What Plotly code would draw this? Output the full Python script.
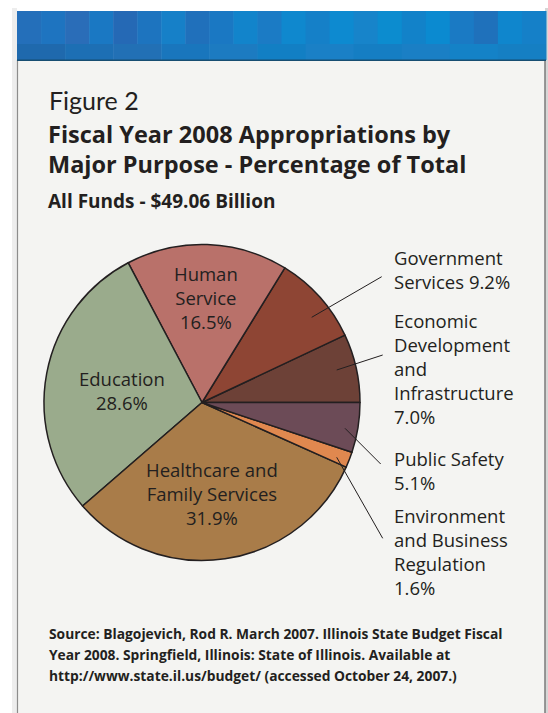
import plotly.graph_objects as go

# ---- data ----
categories = ["Economic Development and Infrastructure", "Government Services", "Human Service",
              "Education", "Healthcare and Family Services",
              "Environment and Business Regulation", "Public Safety"]
values = [7.0, 9.2, 16.5, 28.6, 31.9, 1.6, 5.1]
label_lines = ["Economic<br>Development<br>and<br>Infrastructure", "Government<br>Services", "Human<br>Service",
               "Education", "Healthcare and<br>Family Services",
               "Environment<br>and Business<br>Regulation", "Public Safety"]
value_sep = ["<br>", " ", "<br>", "<br>", "<br>", "<br>", "<br>"]
colors = ["#6d4137", "#8e4534", "#b9716a", "#9aab8c", "#a97c49", "#e0884f", "#6c4b57"]

title_lines = ["Fiscal Year 2008 Appropriations by", "Major Purpose - Percentage of Total"]
subtitle = "All Funds - $49.06 Billion"
source_lines = ["Source: Blagojevich, Rod R. March 2007. Illinois State Budget Fiscal",
                "Year 2008. Springfield, Illinois: State of Illinois. Available at",
                "http://www.state.il.us/budget/ (accessed October 24, 2007.)"]

W, H = 548, 713
TXT = "#231f20"
cx, cy, r = 202, 402.5, 158

# first slice starts at 3 o'clock and runs counterclockwise
first_angle = values[0] / sum(values) * 360

fig = go.Figure()
fig.add_trace(go.Pie(
    labels=categories, values=values, sort=False, direction="counterclockwise",
    rotation=90 - first_angle, textinfo="none", hoverinfo="label+percent",
    marker=dict(colors=colors, line=dict(color=TXT, width=1.5)),
    domain=dict(x=[(cx - r) / W, (cx + r) / W], y=[1 - (cy + r) / H, 1 - (cy - r) / H]),
    showlegend=False,
))

shapes = []
# page shadows / borders
shapes.append(dict(type="rect", x0=12, x1=17, y0=8, y1=H, fillcolor="#ededed", line_width=0, layer="below"))
shapes.append(dict(type="rect", x0=17, x1=546, y0=60, y1=H, fillcolor="#f4f4f2", line_width=0, layer="below"))
shapes.append(dict(type="line", x0=17.5, x1=17.5, y0=60, y1=H, line=dict(color="#8c8c8c", width=1.2), layer="below"))
shapes.append(dict(type="rect", x0=545, x1=548, y0=8, y1=H, fillcolor="#d6d6d6", line_width=0, layer="below"))
shapes.append(dict(type="line", x0=545, x1=545, y0=60, y1=H, line=dict(color="#7a7a7a", width=1.5), layer="below"))
# blue header band with streaky texture
band_cols = ["#246fba", "#1e74c0", "#2a6db8", "#1a78c3", "#2569b5", "#1d74bf", "#1680c8", "#2070bb",
             "#1a78c3", "#1284cb", "#1b7bc5", "#0f88ce", "#1580c8", "#0d8ad0", "#1784ca", "#0c8ccf",
             "#1282c9", "#0b8ad0", "#1a7ac4", "#1f71bb", "#0f86cd", "#1580c8"]
n = len(band_cols)
bw = (546 - 17) / n
for i, c in enumerate(band_cols):
    shapes.append(dict(type="rect", x0=17 + i * bw, x1=17 + (i + 1) * bw + 0.5, y0=11, y1=44,
                       fillcolor=c, line_width=0, layer="below"))
low_cols = ["#1f69ad", "#1d6fb4", "#2270b5", "#1976bd", "#1c7bc1", "#127fc4", "#1a80c6",
            "#157ec3", "#1a7fc5", "#1482c7", "#157fc3"]
bw2 = (546 - 17) / len(low_cols)
for i, c in enumerate(low_cols):
    shapes.append(dict(type="rect", x0=17 + i * bw2, x1=17 + (i + 1) * bw2 + 0.5, y0=44, y1=60,
                       fillcolor=c, line_width=0, layer="below"))
shapes.append(dict(type="line", x0=17, x1=546, y0=60.3, y1=60.3, line=dict(color="#174e72", width=1.5), layer="below"))

# leader lines
leaders = [((311.7, 317.3), (381.7, 276.7)),
           ((336.7, 370.0), (382.7, 355.0)),
           ((345.0, 428.3), (380.7, 464.0)),
           ((336.7, 457.3), (382.7, 538.3))]
for (a, b) in leaders:
    shapes.append(dict(type="line", x0=a[0], y0=a[1], x1=b[0], y1=b[1], line=dict(color=TXT, width=1)))

anns = []
FONT_R = "Open Sans"

def txt(x, y, text, size, family=FONT_R, align="left", xanchor="left", bold=False):
    anns.append(dict(x=x, y=y, xref="x", yref="y", text=f"<b>{text}</b>" if bold else text,
                     showarrow=False, xanchor=xanchor, yanchor="middle", align=align,
                     font=dict(family=family, size=size, color=TXT)))

def lab(i):
    return label_lines[i] + value_sep[i] + f"{values[i]:.1f}%"

# inside labels
txt(206, 297.5, lab(2), 18.5, align="center", xanchor="center")
txt(121.5, 390.5, lab(3), 18.5, align="center", xanchor="center")
txt(212, 493, lab(4), 18.5, align="center", xanchor="center")
# outside labels
txt(392, 269, lab(1), 18.5)
txt(392, 368.5, lab(0), 18.5)
txt(392, 470, lab(6), 18.5)
txt(392, 551, lab(5), 18.5)

# titles
txt(47, 99.5, "Figure 2", 25, family="Lato")
txt(46, 134.2, title_lines[0], 23.5, bold=True)
txt(46, 164.2, title_lines[1], 23.5, bold=True)
txt(46, 201.2, subtitle, 19, bold=True)
for k, line in enumerate(source_lines):
    txt(47, [633.8, 654.7, 675.0][k], line, 13.8, bold=True)

fig.update_layout(
    width=W, height=H, margin=dict(l=0, r=0, t=0, b=0),
    paper_bgcolor="#ffffff", plot_bgcolor="rgba(0,0,0,0)",
    xaxis=dict(range=[0, W], visible=False, fixedrange=True, domain=[0, 1]),
    yaxis=dict(range=[H, 0], visible=False, fixedrange=True, domain=[0, 1]),
    shapes=shapes, annotations=anns,
)
fig.write_html("out.html")
